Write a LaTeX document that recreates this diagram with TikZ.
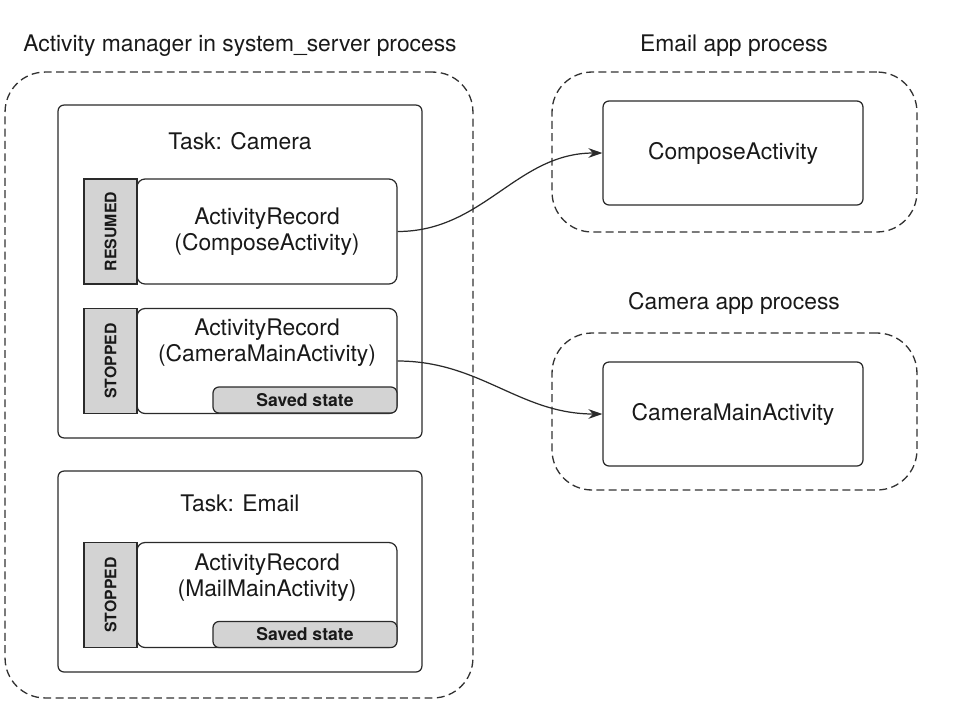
\documentclass[tikz,border=0pt]{standalone}
\usepackage{fontspec}
\setmainfont{TeX Gyre Heros}
\usepackage{xcolor}
\usetikzlibrary{arrows.meta,positioning,shapes}

\definecolor{tabgray}{HTML}{D3D3D3}
\definecolor{linegray}{HTML}{2A2A2A}

\begin{document}
\begin{tikzpicture}[x=0.02cm, y=-0.02cm,
    every node/.style={font=\fontsize{13}{14.5}\selectfont, text=black!90},
    process/.style={draw=black!80, line width=0.75pt, dash pattern=on 4.5pt off 2.5pt,
                    rounded corners=0.8cm},
    task/.style={draw=linegray, line width=0.7pt, rounded corners=0.12cm,
                 minimum width=7.28cm},
    record/.style={draw=linegray, line width=0.7pt, rounded corners=0.16cm,
                   minimum width=5.2cm, minimum height=2.1cm},
    statetab/.style={draw=linegray, fill=tabgray, line width=0.7pt, rotate=90,
                     minimum width=2.1cm, minimum height=1.06cm,
                     font=\fontsize{9}{10}\selectfont\bfseries},
    saved/.style={draw=linegray, fill=tabgray, line width=0.7pt, rounded corners=0.12cm,
                  minimum width=3.68cm, minimum height=0.52cm,
                  font=\fontsize{10}{11}\selectfont\bfseries},
    activity/.style={draw=linegray, line width=0.7pt, rounded corners=0.12cm,
                     minimum width=5.2cm, minimum height=2.08cm},
    link/.style={-{Stealth[length=8pt,width=5.5pt]}, draw=linegray, line width=0.7pt}]
    \useasboundingbox (0,0) rectangle (958,718);

    % processes
    \node[process, minimum width=9.36cm, minimum height=12.52cm] (server) at (239,385) {};
    \node (servertitle) at (240,46) {Activity manager in system\_server process};
    \node[process, minimum width=7.3cm, minimum height=3.2cm] (emailproc) at (734.5,152) {};
    \node (emailtitle) at (734,46) {Email app process};
    \node[process, minimum width=7.3cm, minimum height=3.14cm] (cameraproc) at (734.5,411.5) {};
    \node (cameratitle) at (734,303) {Camera app process};

    % tasks
    \node[task, minimum height=6.66cm] (taskcamera) at (240,271.5) {};
    \node (taskcameratitle) at (240,141) {Task: Camera};
    \node[task, minimum height=4.02cm] (taskemail) at (240,571.5) {};
    \node (taskemailtitle) at (240,503) {Task: Email};

    % activity records
    \node[record, align=center] (rescompose) at (267,231.5)
        {ActivityRecord\\(ComposeActivity)};
    \node[statetab] (tabcompose) at (110.5,231.5) {RESUMED};

    \node[record] (reccamera) at (267,361) {};
    \node[align=center] (reccameratext) at (267,342.5)
        {ActivityRecord\\(CameraMainActivity)};
    \node[statetab] (tabcamera) at (110.5,361) {STOPPED};
    \node[saved] (savedcamera) at (305,400) {Saved state};

    \node[record] (recmail) at (267,595) {};
    \node[align=center] (recmailtext) at (267,577.5)
        {ActivityRecord\\(MailMainActivity)};
    \node[statetab] (tabmail) at (110.5,595) {STOPPED};
    \node[saved] (savedmail) at (305,634.5) {Saved state};

    % app activities
    \node[activity] (compose) at (733,153) {ComposeActivity};
    \node[activity] (cameramain) at (733,414) {CameraMainActivity};

    \draw[link] (rescompose.east) to[out=0, in=180] (compose.west);
    \draw[link] (reccamera.east) to[out=0, in=180] (cameramain.west);
\end{tikzpicture}
\end{document}
